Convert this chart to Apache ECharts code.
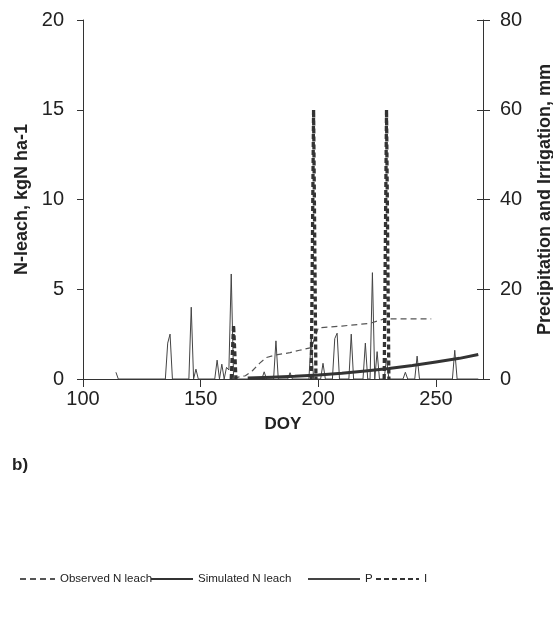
<!DOCTYPE html>
<html style="height: 100%">
<head>
    <meta charset="utf-8">
    <title>N leach b)</title>
</head>
<body style="height: 100%; margin: 0; background: #fff">
<div id="container" style="width: 553px; height: 619px"></div>
<script type="text/javascript" src="https://cdn.jsdelivr.net/npm/echarts@6/dist/echarts.min.js"></script>
<script type="text/javascript">
    var myChart = echarts.init(document.getElementById('container'));

    // DOY ticks
    var doyTicks = [100, 150, 200, 250];

    // precipitation, mm  [DOY, mm]
    var precip = [
        [114, 1.5], [115, 0], [135, 0], [136, 8], [137, 10], [138, 0],
        [145, 0], [146, 16], [147, 0], [148, 2.2], [149, 0],
        [156, 0], [157, 4.2], [158, 0], [159, 3.3], [160, 0], [161, 2.6], [162, 2.0],
        [163, 23.4], [164, 0], [176, 0], [177, 1.6], [178, 0],
        [181, 0], [182, 8.5], [183, 0], [187, 0], [188, 1.4], [189, 0],
        [196, 0], [197, 9], [198, 0], [201, 0], [202, 3.5], [203, 0],
        [206, 0], [207, 9], [208, 10.2], [209, 0], [213, 0], [214, 10], [215, 0],
        [219, 0], [220, 8], [221, 0], [222, 0], [223, 23.7], [224, 0], [225, 6.1], [226, 0],
        [228, 0], [229, 4.6], [230, 0], [236, 0], [237, 1.5], [238, 0],
        [241, 0], [242, 5.1], [243, 0], [257, 0], [258, 6.4], [259, 0], [268, 0]
    ];

    // irrigation, mm (three events)
    var irrig = [
        [163, 0], [164, 12], [165, 0], [180, null],
        [197, 0], [198, 60], [199, 0], [210, null],
        [228, 0], [229, 60], [230, 0]
    ];

    // observed N leach, kgN/ha
    var observed = [
        [164, 0.05], [169, 0.18], [172, 0.46], [175, 0.87], [178, 1.2], [182, 1.34],
        [188, 1.47], [192, 1.6], [197, 1.75], [200, 2.85], [210, 2.95], [222, 3.1],
        [228, 3.35], [248, 3.35]
    ];

    // simulated N leach, kgN/ha
    var simulated = [
        [170, 0.05], [180, 0.1], [190, 0.15], [200, 0.22], [210, 0.32], [220, 0.45],
        [230, 0.58], [240, 0.75], [250, 0.95], [260, 1.15], [268, 1.37]
    ];

    var txt = '#222';
    var ln = '#333';
    var font = 'Liberation Sans, Arial, sans-serif';

    function legendAt(name, left, w) {
        return {
            data: [name], left: left, top: 568, itemWidth: w, itemHeight: 14,
            itemStyle: {opacity: 0},
            textStyle: {fontFamily: font, fontSize: 11.5, color: txt}, selectedMode: false
        };
    }

    var option = {
        animation: false,
        backgroundColor: '#fff',
        textStyle: {fontFamily: font},
        grid: {left: 83, right: 70, top: 20, bottom: 240, outerBoundsMode: 'none'},
        legend: [
            legendAt('Observed N leach', 14, 35),
            legendAt('Simulated N leach', 145, 42),
            legendAt('P', 302, 52),
            legendAt('I', 370, 43)
        ],
        graphic: [{
            type: 'text', left: 12, top: 457,
            style: {text: 'b)', font: 'bold 17px ' + font, fill: txt}
        }],
        xAxis: {
            type: 'value', min: 100, max: 270, interval: 50,
            name: 'DOY', nameLocation: 'middle', nameGap: 37,
            nameTextStyle: {fontSize: 17, fontWeight: 'bold', color: txt},
            axisLine: {lineStyle: {color: ln}},
            axisTick: {length: 8, lineStyle: {color: ln}},
            axisLabel: {fontSize: 20, color: txt, margin: 10, showMaxLabel: false,
                formatter: function (v) { return doyTicks.indexOf(v) >= 0 ? v : ''; }},
            splitLine: {show: false}
        },
        yAxis: [{
            type: 'value', position: 'left', min: 0, max: 20, interval: 5,
            name: 'N-leach, kgN ha-1', nameLocation: 'middle', nameGap: 50, nameRotate: 90,
            nameTextStyle: {fontSize: 18, fontWeight: 'bold', color: txt},
            axisLine: {show: true, lineStyle: {color: ln}},
            axisTick: {show: true, length: 6, lineStyle: {color: ln}},
            axisLabel: {fontSize: 20, color: txt, margin: 19},
            splitLine: {show: false}
        }, {
            type: 'value', position: 'right', min: 0, max: 80, interval: 20,
            name: 'Precipitation and Irrigation, mm', nameLocation: 'middle', nameGap: 53, nameRotate: 90,
            nameTextStyle: {fontSize: 18, fontWeight: 'bold', color: txt},
            axisLine: {show: true, lineStyle: {color: ln}},
            axisTick: {show: true, length: 7, lineStyle: {color: ln}},
            axisLabel: {fontSize: 20, color: txt, margin: 17},
            splitLine: {show: false}
        }, {
            // inner half of the crossing ticks on the right axis
            type: 'value', position: 'right', min: 0, max: 80, interval: 20,
            axisLine: {show: false},
            axisTick: {show: true, inside: true, length: 6, lineStyle: {color: ln}},
            axisLabel: {show: false},
            splitLine: {show: false}
        }],
        series: [{
            name: 'P', type: 'line', yAxisIndex: 1, data: precip,
            symbol: 'none', z: 2,
            lineStyle: {color: '#444', width: 1},
            itemStyle: {color: '#444'}
        }, {
            name: 'Observed N leach', type: 'line', yAxisIndex: 0, data: observed,
            symbol: 'none', z: 3,
            lineStyle: {color: '#555', width: 1.2, type: [6, 4]},
            itemStyle: {color: '#555'}
        }, {
            name: 'Simulated N leach', type: 'line', yAxisIndex: 0, data: simulated,
            symbol: 'none', z: 4,
            lineStyle: {color: ln, width: 3},
            itemStyle: {color: ln}
        }, {
            name: 'I', type: 'line', yAxisIndex: 1, data: irrig,
            symbol: 'none', z: 5, connectNulls: false,
            lineStyle: {color: ln, width: 3.3, type: [5, 3]},
            itemStyle: {color: ln}
        }]
    };
    myChart.setOption(option);
</script>
</body>
</html>
